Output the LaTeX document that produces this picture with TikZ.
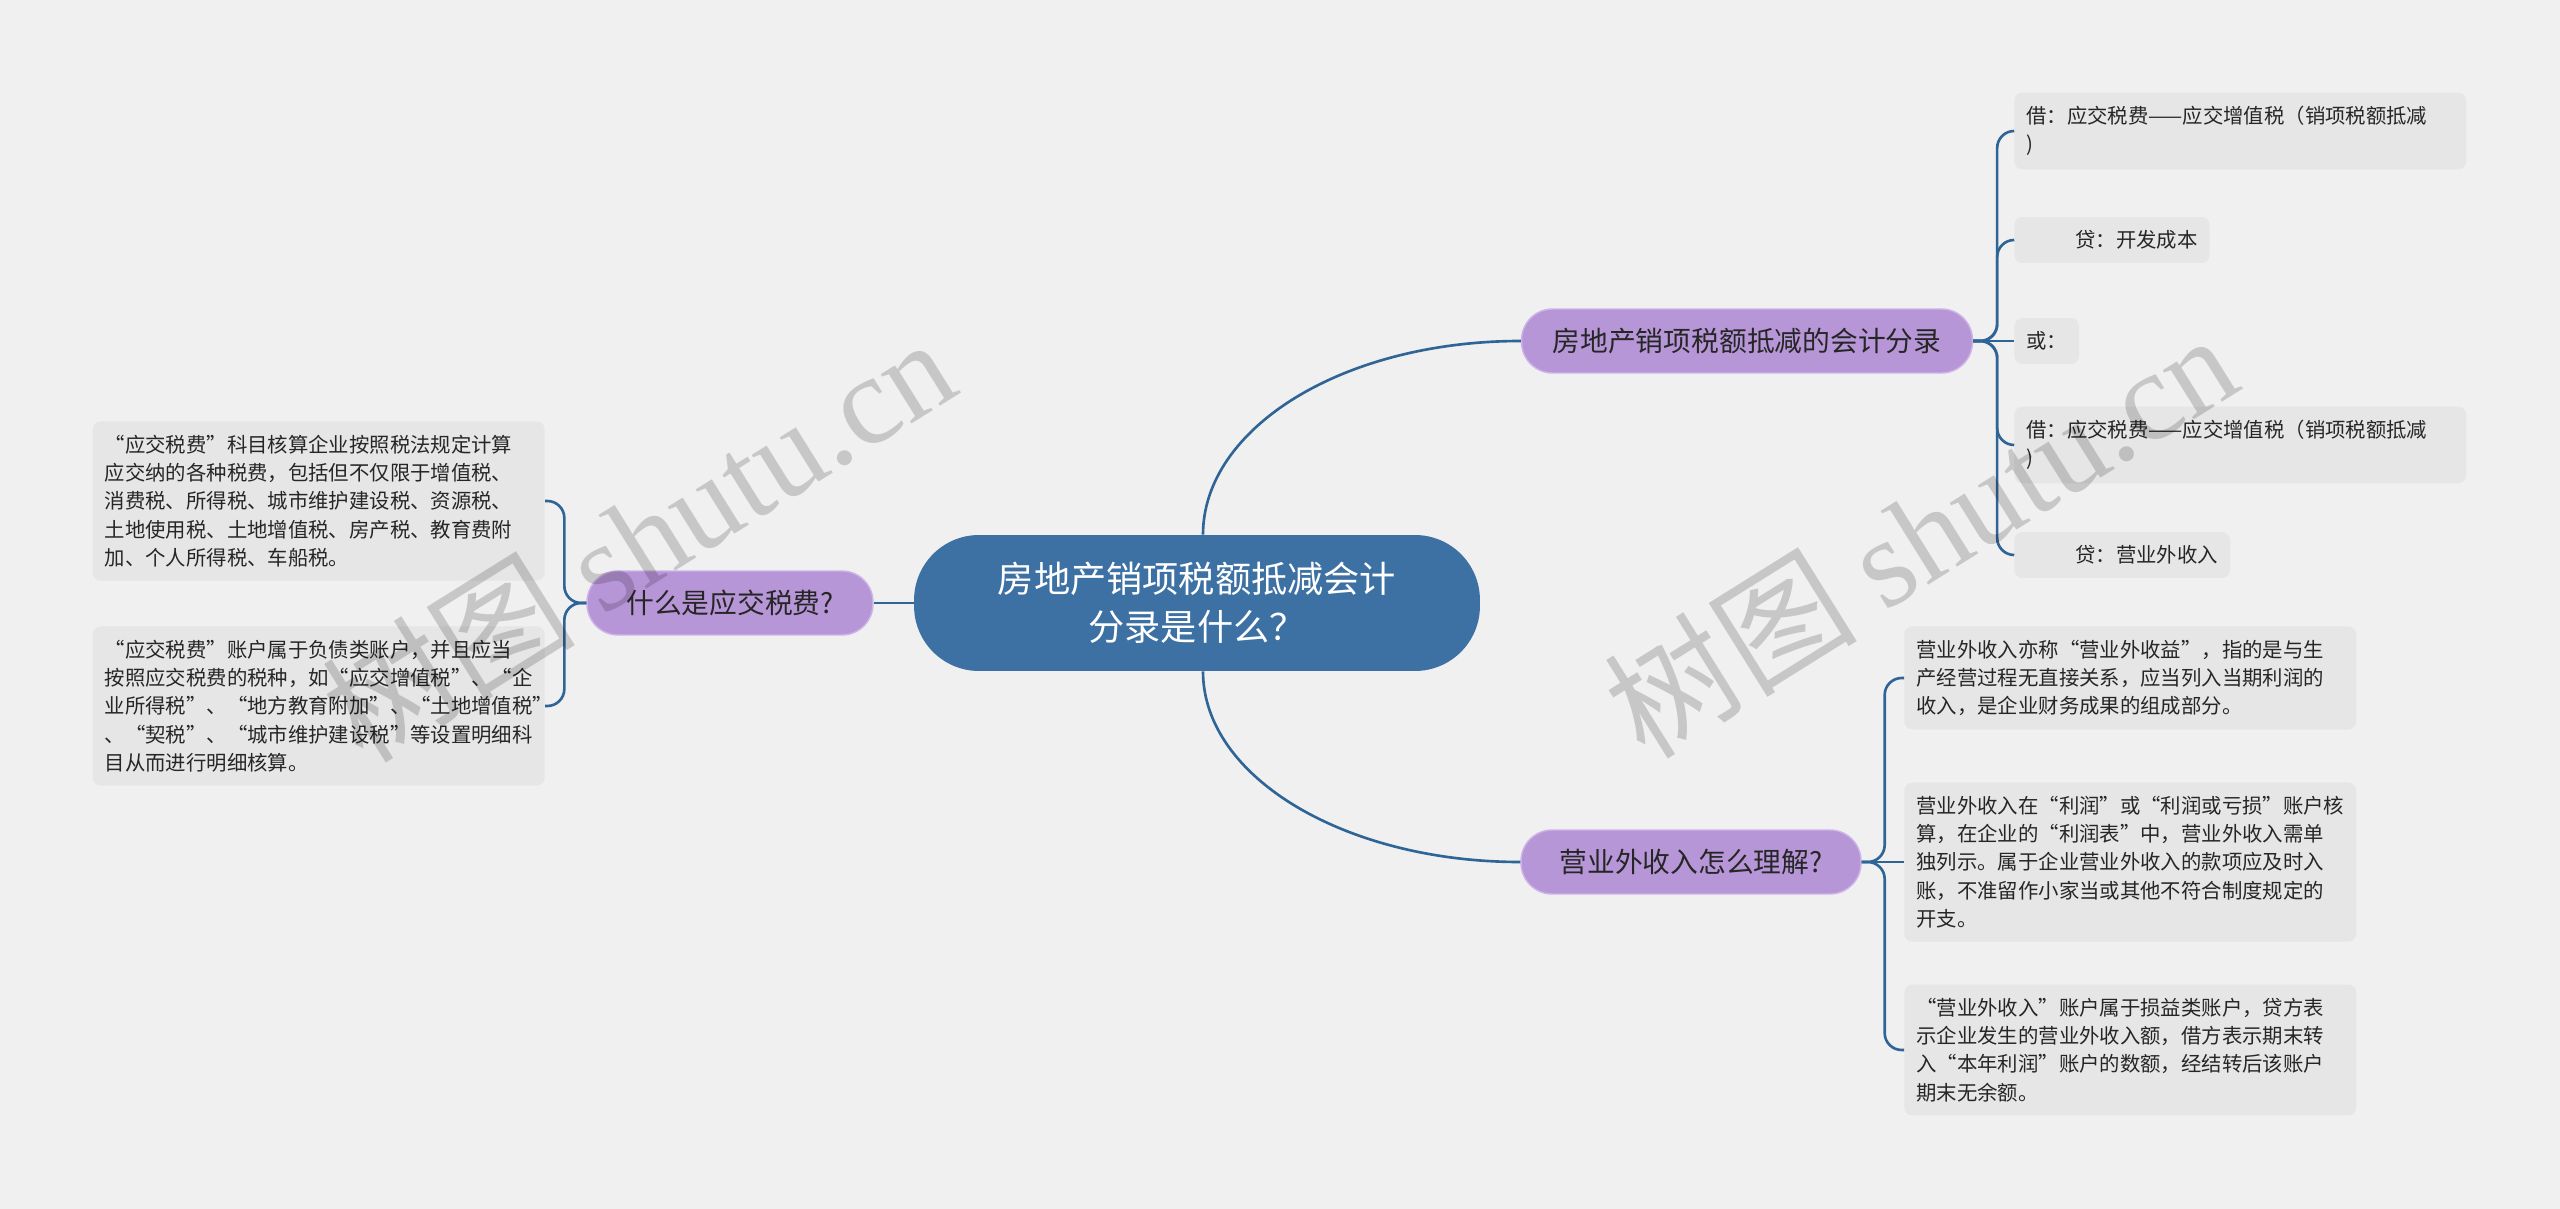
\documentclass[tikz,border=0pt]{standalone}
\usepackage{fontspec}
\setmainfont{Noto Sans CJK SC}
\newfontfamily\markfont{Liberation Serif}
\usetikzlibrary{positioning}

\definecolor{pagebg}{HTML}{F0F0F0}
\definecolor{rootfill}{HTML}{3D71A3}
\definecolor{branchfill}{HTML}{B796D8}
\definecolor{branchline}{HTML}{CDB3EA}
\definecolor{leaffill}{HTML}{E6E6E6}
\definecolor{linkcol}{HTML}{2F6596}
\definecolor{inkcol}{HTML}{262626}

\begin{document}
\begin{tikzpicture}[
    x=0.02cm, y=-0.02cm,
    root/.style={fill=rootfill, text=white, rounded corners=1.3cm,
        minimum width=11.32cm, minimum height=2.72cm, align=center,
        font=\fontsize{20.6pt}{27.3pt}\selectfont},
    branch/.style={fill=branchfill, draw=branchline, line width=0.8pt,
        rounded corners=0.62cm, minimum height=1.28cm, text=inkcol,
        font=\fontsize{15.8pt}{19pt}\selectfont},
    leaf/.style={fill=leaffill, rounded corners=0.16cm, text=inkcol,
        inner xsep=0.24cm, inner ysep=0.27cm, align=left,
        font=\fontsize{11.6pt}{16.1pt}\selectfont},
    wide leaf/.style={leaf, text width=8.56cm},
    link/.style={draw=linkcol, line width=1.5pt},
    bracket/.style={link, rounded corners=0.34cm},
    watermark/.style={rotate=32, text=black, text opacity=0.17,
        font=\fontsize{72pt}{72pt}\selectfont}
]
    \fill[pagebg] (0,0) rectangle (2560,1209);
    \useasboundingbox (0,0) rectangle (2560,1209);

    \node[root] (root) at (1197,603) {房地产销项税额抵减会计\\分录是什么？};

    \node[branch, minimum width=5.72cm] (tax) at (730,603) {什么是应交税费?};
    \node[branch, minimum width=9.02cm] (entry) at (1747,341) {房地产销项税额抵减的会计分录};
    \node[branch, minimum width=6.8cm] (income) at (1691,862) {营业外收入怎么理解?};

    \node[wide leaf, anchor=east] (tax-a) at (545,501)
        {“应交税费”科目核算企业按照税法规定计算\\
         应交纳的各种税费，包括但不仅限于增值税、\\
         消费税、所得税、城市维护建设税、资源税、\\
         土地使用税、土地增值税、房产税、教育费附\\
         加、个人所得税、车船税。};
    \node[wide leaf, anchor=east] (tax-b) at (545,706)
        {“应交税费”账户属于负债类账户，并且应当\\
         按照应交税费的税种，如“应交增值税”、“企\\
         业所得税”、“地方教育附加”、“土地增值税”\\
         、“契税”、“城市维护建设税”等设置明细科\\
         目从而进行明细核算。};

    \node[wide leaf, anchor=west] (entry-a) at (2014,131)
        {借：应交税费——应交增值税（销项税额抵减\\)};
    \node[leaf, anchor=west] (entry-b) at (2014,240) {\hspace*{0.98cm}贷：开发成本};
    \node[leaf, anchor=west] (entry-c) at (2014,341) {或：};
    \node[wide leaf, anchor=west] (entry-d) at (2014,445)
        {借：应交税费——应交增值税（销项税额抵减\\)};
    \node[leaf, anchor=west] (entry-e) at (2014,555) {\hspace*{0.98cm}贷：营业外收入};

    \node[wide leaf, anchor=west] (income-a) at (1904,678)
        {营业外收入亦称“营业外收益”，指的是与生\\
         产经营过程无直接关系，应当列入当期利润的\\
         收入，是企业财务成果的组成部分。};
    \node[wide leaf, anchor=west] (income-b) at (1904,862)
        {营业外收入在“利润”或“利润或亏损”账户核\\
         算，在企业的“利润表”中，营业外收入需单\\
         独列示。属于企业营业外收入的款项应及时入\\
         账，不准留作小家当或其他不符合制度规定的\\
         开支。};
    \node[wide leaf, anchor=west] (income-c) at (1904,1050)
        {“营业外收入”账户属于损益类账户，贷方表\\
         示企业发生的营业外收入额，借方表示期末转\\
         入“本年利润”账户的数额，经结转后该账户\\
         期末无余额。};

    \draw[link] (root) -- (tax);
    \draw[link] ([xshift=0.12cm]root.north) .. controls +(0,-106) and +(-179,0) .. (entry.west);
    \draw[link] ([xshift=0.12cm]root.south) .. controls +(0,106) and +(-175,0) .. (income.west);

    \foreach \leafname in {tax-a,tax-b}
        \draw[bracket] (tax.west) -- ++(-22,0) |- (\leafname.east);
    \foreach \leafname in {entry-a,entry-b,entry-d,entry-e}
        \draw[bracket] (entry.east) -- ++(24,0) |- (\leafname.west);
    \draw[link] (entry) -- (entry-c);
    \foreach \leafname in {income-a,income-c}
        \draw[bracket] (income.east) -- ++(23,0) |- (\leafname.west);
    \draw[link] (income) -- (income-b);

    \node[watermark] (mark-left) at (638,538) {树图 {\markfont shutu.cn}};
    \node[watermark] (mark-right) at (1920,534) {树图 {\markfont shutu.cn}};

\end{tikzpicture}
\end{document}
